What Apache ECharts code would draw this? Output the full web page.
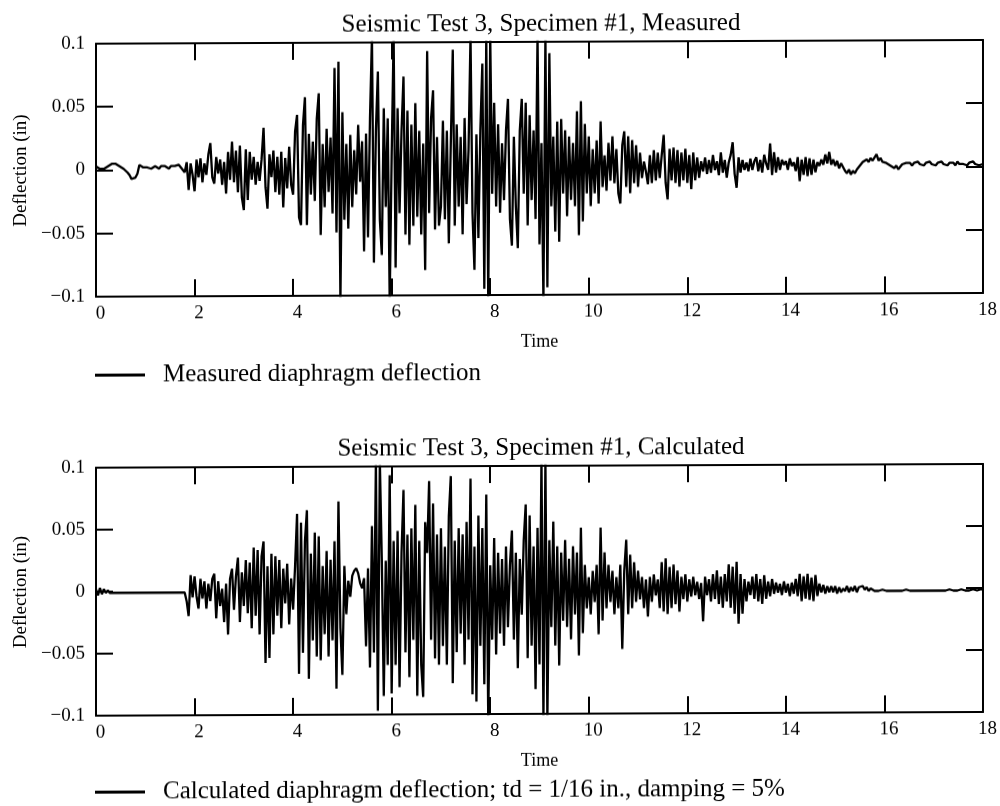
<!DOCTYPE html>
<html>
<head>
<meta charset="utf-8">
<title>Seismic Test 3, Specimen #1</title>
<script src="https://cdn.jsdelivr.net/npm/echarts@6.0.0/dist/echarts.min.js"></script>
<style>
  html, body { margin: 0; padding: 0; background: #fff; }
  /* the printed page sits very slightly tilted */
  #chart { width: 1000px; height: 806px; transform: skewY(-0.24deg); }
</style>
</head>
<body>
<div id="chart"></div>
<script>
// Sampling interval of both records, seconds
const dt = 0.04;

// Measured diaphragm deflection, thousandths of an inch, one row per second
const measured = [
  3, 2, 1, 2, 1, 2, 3, 4, 5, 6, 5, 4, 3, 2, 1, 0, -2, -4, -7, -8, -6, -3, 4, 3, 2,
  3, 2, 3, 1, 2, 3, 2, 1, 3, 2, 3, 2, 1, 3, 2, 3, 2, 4, 2, 3, -2, 6, -16, 5, -4,
  -17, 8, -6, 9, -10, 5, -4, 12, 21, -6, -11, 10, -3, 8, -12, 6, -19, 14, -8, 22, -10, 15, -18, 19, -22,
  -32, 16, -24, 14, -8, 10, -12, 6, -9, 8, 33, -14, -31, 12, -6, 15, -18, 10, -20, 14, -30, 9, -15, 18, -12,
  -20, 30, 43, -38, -44, 35, 57, -44, 28, -20, 22, -25, 40, 60, -52, 20, -30, 32, -18, 25, -35, 80, -50, 85, -105,
  45, -40, 20, -47, 27, -30, 15, -20, 35, -10, 22, -65, 28, -54, 40, 105, -74, 30, 77, -40, -68, 48, -30, 40, -105,
  10, 105, -78, 48, -35, 30, 73, -52, 46, -60, 35, -45, 52, -38, 30, -52, 20, -80, 93, -35, 40, 62, -48, 25, -45,
  -30, 38, -40, 30, -59, 20, 94, -45, 35, -30, 25, -52, 40, -28, 15, 105, -35, -80, 27, -55, 30, 83, -95, 105, -105,
  105, -20, 52, -30, 35, -35, 20, -25, 30, 55, -40, -61, 25, -30, -63, 30, 55, -20, 52, -45, 42, -25, 30, -40, 105,
  -60, 20, -105, 105, -94, 91, -30, 25, -50, 37, -58, 39, -20, 30, -38, 25, -25, 20, -30, 45, -53, 53, -42, 35, -20,
  25, -30, 15, -20, 22, -28, 37, -15, 10, -18, 20, -10, 25, -12, 15, -20, -28, 18, 29, -15, 25, -20, 22, -12, 18,
  -15, 12, -8, 5, -3, -13, 10, -12, 14, -10, 12, -8, 10, 26, -12, -25, 15, -10, 16, -12, 14, -15, 12, -10, 15,
  -12, 10, -17, 12, -10, 8, -8, 5, -3, 8, -5, 6, -4, 10, -2, 5, -6, 12, -4, 6, -8, 4, 10, 20, -5,
  -16, 8, -4, 6, -2, 4, -3, 7, -2, 5, 8, -3, 6, -4, 10, 3, -2, 19, -6, 12, -4, 8, -2, 6, 2,
  5, -2, 7, 1, 4, -3, 8, -11, 6, -6, 8, -7, 7, -6, 6, -4, 4, 1, 6, 2, 10, 3, 12, 2, 6,
  1, 5, -1, 3, 0, -3, -5, -2, -6, -3, -5, -2, -3, 2, 4, 3, 6, 4, 7, 5, 6, 10, 5, 7, 4,
  5, 3, 4, 1, 2, -1, 1, -2, 0, 2, 1, 3, 2, 3, 1, 3, 2, 4, 2, 3, 1, 3, 2, 4, 2,
  3, 1, 3, 2, 4, 2, 3, 1, 3, 2, 3, 1, 4, 2, 3, 2, 3, 1, 3, 2, 4, 2, 3, 1, 2, 2
];

// Calculated diaphragm deflection, thousandths of an inch, one row per second
const calculated = [
  2, -3, 3, -2, 2, -1, 1, -1, -1, -1, -1, -1, -1, -1, -1, -1, -1, -1, -1, -1, -1, -1, -1, -1, -1,
  -1, -1, -1, -1, -1, -1, -1, -1, -1, -1, -1, -1, -1, -1, -1, -1, -1, -1, -1, -1, -1, -8, -20, 13, -5,
  12, -4, -14, 10, -6, 8, -14, 6, -8, 10, 14, -22, 8, -12, 2, -25, 6, -35, 10, 18, -15, 12, 27, -25, 15,
  -12, 25, -18, 23, -30, 35, -20, 33, -35, 28, 40, -58, 20, -54, 30, -35, 28, -20, 25, -30, 18, -10, 22, -27, 10,
  -15, 20, 62, -67, 55, -50, 40, 65, -71, 30, -40, 47, -53, 44, -56, 20, -35, 32, -53, 25, -40, 40, -79, 72, -30,
  -68, 20, -19, 8, -5, 12, 16, 18, 14, 6, 2, 10, -45, 18, -62, 52, -50, 105, -97, 105, 25, -85, 24, -60, 93,
  -83, 40, -60, 48, -78, 30, 81, -50, 45, -70, 50, -40, 69, -85, 40, -60, -86, 55, 30, 88, -40, 70, -55, 45, -60,
  50, -45, 35, -60, 60, 92, -75, 40, -50, 50, -35, 45, -60, 55, -40, 90, -84, 35, -90, 60, -45, 50, -76, 77, -105,
  20, -40, 42, -52, 30, -35, 25, -45, 35, -30, 20, 48, -40, 30, -63, 25, -20, 40, 69, -55, 60, -45, 35, -80, 50,
  -60, 105, -105, 105, -105, 40, -30, 55, -45, 35, -61, 30, -25, 40, -30, 25, -40, 35, -20, 30, -53, 50, -35, 20, -15,
  10, -20, 15, -10, 20, -36, 50, -25, 30, -15, 20, -10, 15, -20, 10, -15, 20, -48, 15, 40, -20, 28, -15, 22, -10,
  15, -8, 10, -15, 8, -22, 10, -10, 12, -5, 8, -15, 22, -18, 25, -20, 18, -15, 20, -12, 15, -18, 10, -8, 12,
  -10, 8, -6, 10, -5, 6, -8, 5, -26, 10, -5, 8, -10, 12, -8, 15, -12, 10, -15, 12, -10, 20, -15, 18, -20,
  22, -28, 12, -20, 8, -10, 6, -5, 10, -8, 12, -10, 8, -12, 11, -8, 6, -6, 8, -4, 5, -3, 4, -5, 6,
  -3, 4, -6, 5, -4, 8, -6, 12, -10, 10, -8, 12, -9, 9, -10, 11, -6, 4, -3, 3, -4, 2, -3, 2, -3,
  2, -4, 1, -3, 0, -2, 2, -3, 1, -2, 2, -3, 1, 0, 2, -1, 1, -2, 0, -1, -2, -1, -2, -2, -1,
  -2, -2, -1, -2, -2, -2, -1, -2, -2, -2, -2, -1, -2, -2, -2, -2, -1, -2, -2, -2, -2, -2, -1, -2, -2,
  -2, -2, -2, -1, -2, -2, -2, -2, -1, -2, -2, -2, -2, -2, -1, -2, -2, -2, -2, -2, -1, -2, -2, -2, -1, -1
];

// Axis ranges and tick spacing
const timeAxis = { min: 0, max: 18, step: 2 };
const deflAxis = { min: -0.1, max: 0.1, step: 0.05 };

// Texts
const panelTitles = [
  'Seismic Test 3, Specimen #1, Measured',
  'Seismic Test 3, Specimen #1, Calculated'
];
const seriesNames = [
  'Measured diaphragm deflection',
  'Calculated diaphragm deflection; td = 1/16 in., damping = 5%'
];
const xName = 'Time';
const yName = 'Deflection (in)';

const FONT = '"Liberation Serif", "Times New Roman", Times, serif';
const INK = '#000';

// Panel frames on the page
const panels = [
  { top: 42, height: 253, titleY: 24, legendTop: 361 },
  { top: 466, height: 248, titleY: 448, legendTop: 778 }
];

function toPairs(values) {
  return values.map((v, i) => [+(i * dt).toFixed(2), v / 1000]);
}

const lineStyle = { color: INK, width: 2 };
const tickStyle = { inside: true, length: 17, lineStyle: { color: INK, width: 2 } };

function deflLabel(v) {
  if (Math.abs(v) < 1e-9) return '0';
  const s = String(Math.round(Math.abs(v) * 100) / 100);
  return (v < 0 ? '\u2212' : '') + s;
}

const grid = [], xAxis = [], yAxis = [], series = [], legend = [], graphic = [];
const records = [measured, calculated];

panels.forEach((p, g) => {
  grid.push({ left: 96, right: 17, top: p.top, height: p.height, containLabel: false });

  xAxis.push({
    gridIndex: g, type: 'value', position: 'bottom',
    min: timeAxis.min, max: timeAxis.max, interval: timeAxis.step,
    axisLine: { show: true, onZero: false, lineStyle },
    axisTick: tickStyle,
    axisLabel: { color: INK, fontFamily: FONT, fontSize: 19, margin: 8, padding: [0, 0, 0, 9] },
    splitLine: { show: false },
    name: xName, nameLocation: 'middle', nameGap: 38,
    nameTextStyle: { color: INK, fontFamily: FONT, fontSize: 18 }
  });
  xAxis.push({
    gridIndex: g, type: 'value', position: 'top',
    min: timeAxis.min, max: timeAxis.max, interval: timeAxis.step,
    axisLine: { show: true, onZero: false, lineStyle },
    axisTick: tickStyle,
    axisLabel: { show: false },
    splitLine: { show: false }
  });

  yAxis.push({
    gridIndex: g, type: 'value', position: 'left',
    min: deflAxis.min, max: deflAxis.max, interval: deflAxis.step,
    axisLine: { show: true, onZero: false, lineStyle },
    axisTick: tickStyle,
    axisLabel: { color: INK, fontFamily: FONT, fontSize: 19, margin: 11, formatter: deflLabel },
    splitLine: { show: false },
    name: yName, nameLocation: 'middle', nameGap: 61, nameRotate: 90,
    nameTextStyle: { color: INK, fontFamily: FONT, fontSize: 19 }
  });
  yAxis.push({
    gridIndex: g, type: 'value', position: 'right',
    min: deflAxis.min, max: deflAxis.max, interval: deflAxis.step,
    axisLine: { show: true, onZero: false, lineStyle },
    axisTick: tickStyle,
    axisLabel: { show: false },
    splitLine: { show: false }
  });

  series.push({
    name: seriesNames[g], type: 'line',
    xAxisIndex: 2 * g, yAxisIndex: 2 * g,
    data: toPairs(records[g]),
    showSymbol: false, symbol: 'none', clip: true,
    color: INK,
    lineStyle: { color: INK, width: 2.3 },
    emphasis: { disabled: true },
    animation: false
  });

  legend.push({
    data: [seriesNames[g]], left: 95, top: p.legendTop, padding: 0,
    icon: 'rect', itemWidth: 50, itemHeight: 3,
    itemStyle: { color: INK },
    selectedMode: false,
    textStyle: { color: INK, fontFamily: FONT, fontSize: 25, padding: [0, 0, 0, 13] }
  });

  graphic.push({
    type: 'text', x: 541, y: p.titleY, silent: true,
    style: { text: panelTitles[g], fill: INK, font: '25px ' + FONT, align: 'center', verticalAlign: 'middle' }
  });
});

const chart = echarts.init(document.getElementById('chart'), null, { renderer: 'canvas' });
chart.setOption({
  backgroundColor: '#fff',
  animation: false,
  grid, xAxis, yAxis, series, legend, graphic
});
</script>
</body>
</html>
